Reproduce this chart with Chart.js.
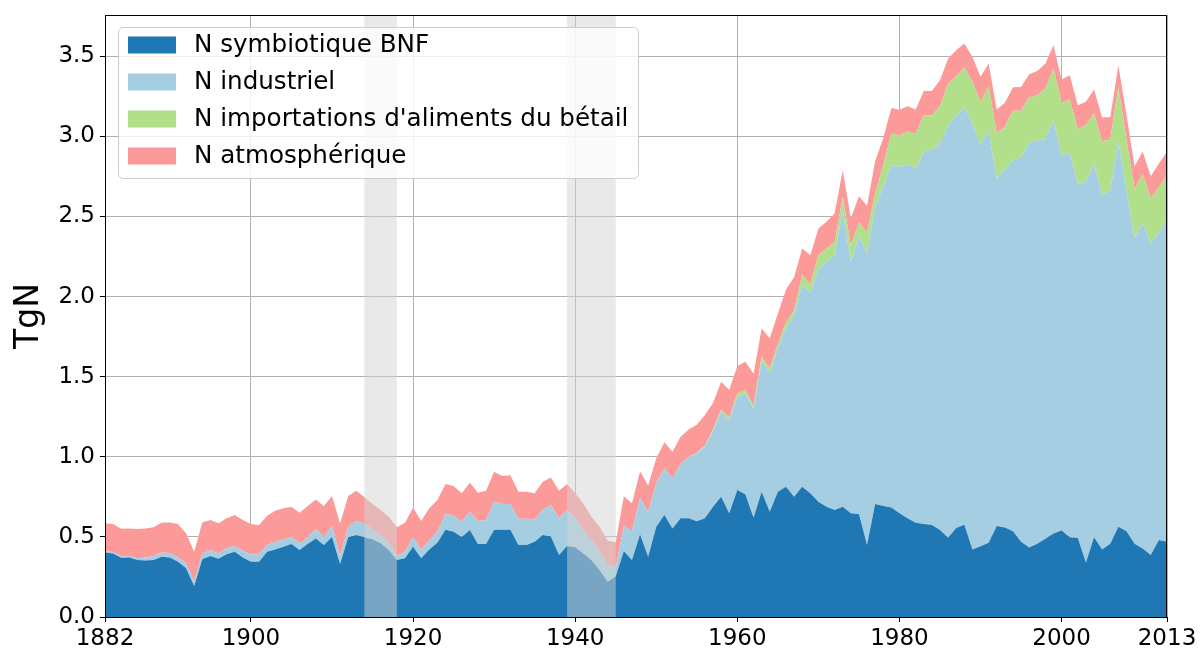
<!DOCTYPE html>
<html>
<head>
<meta charset="utf-8">
<script src="https://cdn.jsdelivr.net/npm/chart.js@4.4.1/dist/chart.umd.min.js"></script>
<style>
  html, body { margin: 0; padding: 0; background: #fff; }
  #wrap { width: 1200px; height: 648px; position: relative; }
</style>
</head>
<body>
<div id="wrap"><canvas id="chart"></canvas></div>
<script>
// years on the x axis
const firstYear = 1882, lastYear = 2013;
const years = [];
for (let y = firstYear; y <= lastYear; y++) years.push(y);

// TgN per year
const symbiotic = [
  0.403, 0.397, 0.370, 0.372, 0.356, 0.352, 0.356, 0.376, 0.372, 0.345,
  0.304, 0.193, 0.360, 0.380, 0.363, 0.391, 0.407, 0.372, 0.345, 0.345,
  0.407, 0.422, 0.439, 0.455, 0.418, 0.455, 0.490, 0.449, 0.500, 0.330,
  0.497, 0.511, 0.497, 0.485, 0.460, 0.418, 0.356, 0.366, 0.439, 0.366,
  0.422, 0.464, 0.545, 0.532, 0.500, 0.543, 0.455, 0.455, 0.543, 0.545,
  0.545, 0.449, 0.449, 0.470, 0.511, 0.503, 0.387, 0.443, 0.436, 0.397,
  0.356, 0.293, 0.220, 0.255, 0.410, 0.356, 0.515, 0.376, 0.563, 0.636,
  0.553, 0.616, 0.616, 0.598, 0.616, 0.688, 0.751, 0.647, 0.792, 0.764,
  0.620, 0.782, 0.657, 0.782, 0.813, 0.751, 0.813, 0.772, 0.720, 0.688,
  0.667, 0.688, 0.647, 0.643, 0.449, 0.705, 0.692, 0.684, 0.647, 0.616,
  0.588, 0.580, 0.574, 0.543, 0.495, 0.556, 0.575, 0.422, 0.441, 0.464,
  0.568, 0.558, 0.535, 0.469, 0.434, 0.457, 0.488, 0.521, 0.540, 0.497,
  0.493, 0.340, 0.497, 0.422, 0.457, 0.563, 0.535, 0.457, 0.427, 0.387,
  0.481, 0.469
];
const industrial = [
  0.007, 0.008, 0.008, 0.008, 0.010, 0.020, 0.024, 0.027, 0.028, 0.027,
  0.031, 0.027, 0.037, 0.036, 0.034, 0.037, 0.038, 0.041, 0.045, 0.045,
  0.043, 0.046, 0.045, 0.042, 0.042, 0.042, 0.057, 0.051, 0.068, 0.050,
  0.067, 0.088, 0.083, 0.062, 0.051, 0.046, 0.024, 0.041, 0.058, 0.052,
  0.058, 0.068, 0.100, 0.100, 0.095, 0.114, 0.144, 0.150, 0.177, 0.160,
  0.160, 0.164, 0.164, 0.140, 0.156, 0.196, 0.229, 0.224, 0.180, 0.146,
  0.124, 0.125, 0.104, 0.055, 0.160, 0.179, 0.228, 0.276, 0.271, 0.292,
  0.312, 0.339, 0.379, 0.422, 0.449, 0.472, 0.532, 0.582, 0.583, 0.631,
  0.682, 0.815, 0.867, 0.894, 0.992, 1.133, 1.258, 1.248, 1.455, 1.529,
  1.591, 1.851, 1.570, 1.737, 1.822, 1.850, 1.998, 2.136, 2.162, 2.210,
  2.211, 2.323, 2.344, 2.412, 2.570, 2.570, 2.607, 2.660, 2.503, 2.571,
  2.167, 2.237, 2.315, 2.401, 2.526, 2.518, 2.495, 2.579, 2.335, 2.400,
  2.210, 2.376, 2.333, 2.213, 2.206, 2.409, 2.125, 1.908, 2.035, 1.945,
  1.923, 2.009
];
const feedImports = [
  0, 0, 0, 0, 0, 0, 0, 0, 0, 0,
  0, 0, 0, 0, 0, 0, 0, 0, 0, 0,
  0, 0, 0, 0, 0, 0, 0, 0, 0, 0,
  0, 0, 0, 0, 0, 0, 0, 0, 0, 0,
  0, 0, 0, 0, 0, 0, 0, 0, 0, 0,
  0, 0, 0, 0, 0, 0, 0, 0, 0, 0,
  0, 0, 0, 0, 0, 0, 0, 0, 0, 0,
  0, 0, 0.003, 0.005, 0.005, 0.010, 0.012, 0.016, 0.021, 0.021,
  0.013, 0.031, 0.026, 0.024, 0.035, 0.031, 0.063, 0.055, 0.083, 0.083,
  0.082, 0.081, 0.103, 0.080, 0.129, 0.085, 0.130, 0.197, 0.198, 0.204,
  0.216, 0.229, 0.214, 0.233, 0.264, 0.249, 0.247, 0.258, 0.271, 0.278,
  0.282, 0.265, 0.309, 0.289, 0.282, 0.281, 0.315, 0.323, 0.333, 0.333,
  0.341, 0.353, 0.316, 0.334, 0.317, 0.332, 0.320, 0.303, 0.302, 0.280,
  0.280, 0.279
];
const atmospheric = [
  0.175, 0.175, 0.173, 0.173, 0.183, 0.181, 0.180, 0.187, 0.190, 0.208,
  0.187, 0.187, 0.193, 0.189, 0.188, 0.188, 0.191, 0.192, 0.190, 0.184,
  0.182, 0.195, 0.194, 0.191, 0.191, 0.195, 0.187, 0.192, 0.187, 0.204,
  0.191, 0.189, 0.167, 0.158, 0.156, 0.162, 0.180, 0.181, 0.187, 0.181,
  0.198, 0.198, 0.185, 0.185, 0.177, 0.181, 0.177, 0.183, 0.186, 0.175,
  0.180, 0.169, 0.169, 0.162, 0.177, 0.172, 0.172, 0.163, 0.156, 0.166,
  0.146, 0.145, 0.152, 0.157, 0.183, 0.175, 0.167, 0.168, 0.156, 0.162,
  0.166, 0.170, 0.172, 0.175, 0.190, 0.165, 0.173, 0.173, 0.170, 0.177,
  0.203, 0.172, 0.190, 0.194, 0.204, 0.205, 0.166, 0.183, 0.167, 0.166,
  0.178, 0.169, 0.167, 0.166, 0.167, 0.205, 0.170, 0.159, 0.158, 0.158,
  0.153, 0.151, 0.151, 0.162, 0.156, 0.162, 0.150, 0.156, 0.156, 0.141,
  0.150, 0.150, 0.147, 0.149, 0.145, 0.152, 0.156, 0.145, 0.146, 0.151,
  0.150, 0.146, 0.146, 0.148, 0.141, 0.140, 0.155, 0.145, 0.139, 0.139,
  0.146, 0.146
];

const seriesNames = [
  "N symbiotique BNF",
  "N industriel",
  "N importations d'aliments du bétail",
  "N atmosphérique"
];
const seriesColors = ["#1f77b4", "#a6cee3", "#b2df8a", "#fb9a99"];

const xTicks = [1882, 1900, 1920, 1940, 1960, 1980, 2000, 2013];
const yTicks = [0, 0.5, 1.0, 1.5, 2.0, 2.5, 3.0, 3.5];
const warPeriods = [[1914, 1918], [1939, 1945]];

const FONT = "'DejaVu Sans', sans-serif";

function toPoints(values) {
  return values.map((v, i) => ({ x: years[i], y: v }));
}

const datasets = [symbiotic, industrial, feedImports, atmospheric].map((vals, i) => ({
  label: seriesNames[i],
  data: toPoints(vals),
  backgroundColor: seriesColors[i],
  borderColor: "rgba(0,0,0,0)",
  borderWidth: 0,
  pointRadius: 0,
  pointHoverRadius: 0,
  tension: 0,
  fill: i === 0 ? "origin" : "-1"
}));

// grey bands for the two world wars, drawn over the areas
const warBands = {
  id: "warBands",
  afterDatasetsDraw(chart) {
    const { ctx, chartArea: a, scales: { x } } = chart;
    ctx.save();
    ctx.fillStyle = "rgba(211,211,211,0.5)";
    warPeriods.forEach(([from, to]) => {
      const x0 = x.getPixelForValue(from);
      const x1 = x.getPixelForValue(to);
      ctx.fillRect(x0, a.top, x1 - x0, a.bottom - a.top);
    });
    ctx.restore();
  }
};

const frameAndLegend = {
  id: "frameAndLegend",
  afterDraw(chart) {
    const { ctx, chartArea: a } = chart;
    ctx.save();
    ctx.strokeStyle = "#000";
    ctx.lineWidth = 1;
    ctx.strokeRect(a.left + 0.5, a.top + 0.5, a.right - a.left - 1, a.bottom - a.top);

    const lx = a.left + 13, ly = a.top + 12, lw = 520, lh = 151;
    ctx.beginPath();
    ctx.roundRect(lx + 0.5, ly + 0.5, lw, lh, 5);
    ctx.fillStyle = "rgba(255,255,255,0.8)";
    ctx.fill();
    ctx.strokeStyle = "#cccccc";
    ctx.stroke();

    ctx.font = "24.6px " + FONT;
    ctx.textBaseline = "middle";
    ctx.textAlign = "left";
    chart.data.datasets.forEach((ds, i) => {
      const cy = ly + 18 + i * 37;
      ctx.fillStyle = ds.backgroundColor;
      ctx.fillRect(lx + 10, cy - 8.5, 48, 17);
      ctx.fillStyle = "#000";
      ctx.fillText(ds.label, lx + 76, cy + 1);
    });
    ctx.restore();
  }
};

new Chart(document.getElementById("chart"), {
  type: "line",
  data: { datasets },
  options: {
    responsive: true,
    maintainAspectRatio: false,
    animation: false,
    events: [],
    layout: { padding: { top: 15, right: 33, left: 0, bottom: 0 } },
    plugins: {
      legend: { display: false },
      tooltip: { enabled: false }
    },
    scales: {
      x: {
        type: "linear",
        min: firstYear,
        max: lastYear,
        z: 1,
        afterBuildTicks: s => { s.ticks = xTicks.map(v => ({ value: v })); },
        afterFit: s => { s.height = 31; s.paddingLeft = 0; s.paddingRight = 0; },
        grid: { color: "#b0b0b0", lineWidth: 1, tickColor: "#000", tickLength: 5 },
        border: { display: false },
        ticks: {
          autoSkip: false,
          maxRotation: 0,
          padding: 3,
          color: "#000",
          font: { family: FONT, size: 23 },
          callback: v => String(v)
        }
      },
      y: {
        stacked: true,
        min: 0,
        max: 3.757,
        z: 1,
        afterBuildTicks: s => { s.ticks = yTicks.map(v => ({ value: v })); },
        afterFit: s => { s.width = 105; s.paddingTop = 0; s.paddingBottom = 0; },
        grid: { color: "#b0b0b0", lineWidth: 1, tickColor: "#000", tickLength: 5 },
        border: { display: false },
        title: {
          display: true,
          text: "TgN",
          color: "#000",
          font: { family: FONT, size: 33 },
          padding: { top: 10, bottom: 0 }
        },
        ticks: {
          padding: 5,
          color: "#000",
          font: { family: FONT, size: 23 },
          callback: v => v.toFixed(1)
        }
      }
    }
  },
  plugins: [warBands, frameAndLegend]
});
</script>
</body>
</html>
